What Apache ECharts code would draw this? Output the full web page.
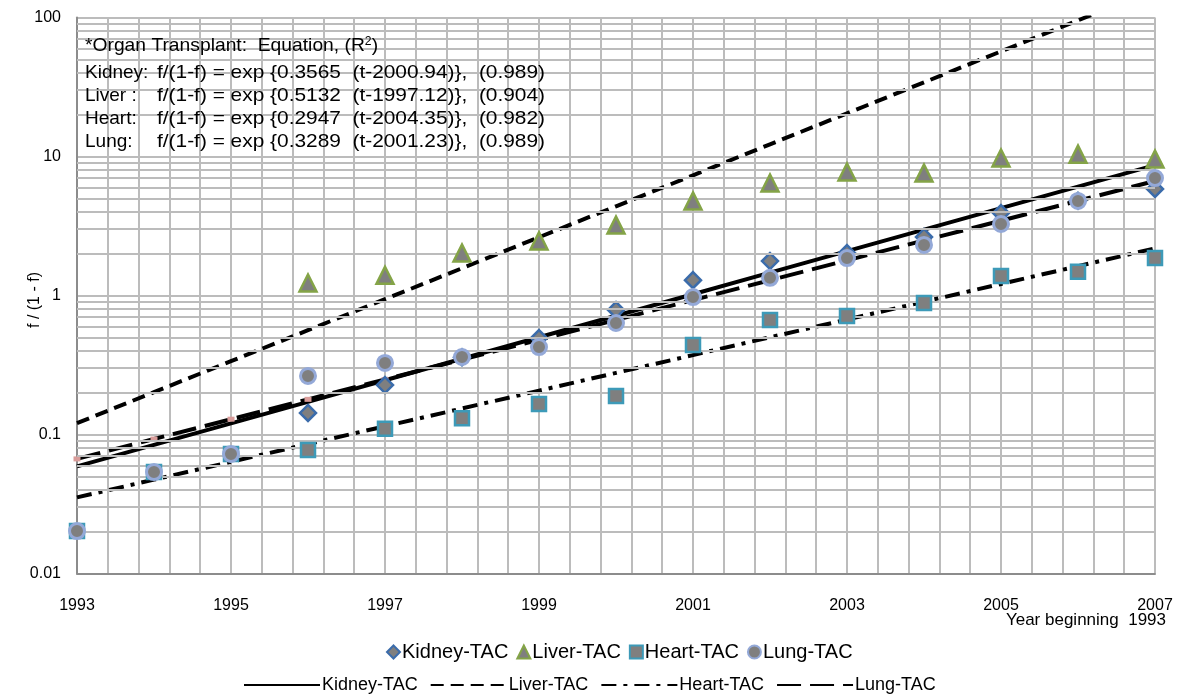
<!DOCTYPE html>
<html>
<head>
<meta charset="utf-8">
<script src="https://cdn.jsdelivr.net/npm/echarts@6/dist/echarts.min.js"></script>
<style>
  html, body { margin: 0; padding: 0; background: #ffffff; }
  #chart { width: 1180px; height: 695px; }
</style>
</head>
<body>
<div id="chart"></div>
<script>
// Observed f/(1-f) ratios per year of the tacrolimus (TAC) share
const years  = [1993, 1994, 1995, 1996, 1997, 1998, 1999, 2000, 2001, 2002, 2003, 2004, 2005, 2006, 2007];
const kidney = [null, null, null, 0.143, 0.227, 0.36, 0.494, 0.787, 1.29, 1.77, 2.02, 2.64, 3.92, 4.8, 5.84];
const liver  = [null, null, null, 1.23, 1.40, 2.02, 2.47, 3.21, 4.79, 6.45, 7.73, 7.61, 9.75, 10.4, 9.6];
const heart  = [0.0202, 0.0537, 0.0724, 0.0774, 0.110, 0.131, 0.166, 0.189, 0.44, 0.666, 0.712, 0.883, 1.38, 1.48, 1.86];
const lung   = [0.0202, 0.0537, 0.0724, 0.264, 0.327, 0.361, 0.426, 0.634, 0.975, 1.34, 1.86, 2.31, 3.27, 4.79, 7.0];

// Fisher-Pry fits: f/(1-f) = exp{rate (t - mid)}
const organs   = ['Kidney', 'Liver', 'Heart', 'Lung'];
const fitRate  = [0.3565, 0.5132, 0.2947, 0.3289];
const fitMid   = [2000.94, 1997.12, 2004.35, 2001.23];
const fitR2    = ['0.989', '0.904', '0.982', '0.989'];

// Axis tick labels
const yTickLabels = ['0.01', '0.1', '1', '10', '100'];
const xTickLabels = ['1993', '1995', '1997', '1999', '2001', '2003', '2005', '2007'];

const FONT = "'Liberation Sans', Arial, sans-serif";
const GRID = '#bcbcbc';
const baseYear = years[0];

const observed = [kidney, liver, heart, lung];
const names = organs.map(o => o + '-TAC');

function pts(vals) {
  return years.map((y, i) => [y - baseYear, vals[i]]);
}
function fitPts(k) {
  return years.map(y => [y - baseYear, Math.exp(fitRate[k] * (y - fitMid[k]))]);
}

// Minor log grid values 2..9 within each decade
const minorGrid = [];
for (let e = -2; e <= 1; e++) {
  for (let m = 2; m <= 9; m++) minorGrid.push(+(m * Math.pow(10, e)).toPrecision(3));
}

const markerStyles = [
  { symbol: 'diamond',  size: 16, border: '#3b6cab' },
  { symbol: 'triangle', size: 17, border: '#84a447' },
  { symbol: 'rect',     size: 14, border: '#3d9ab8' },
  { symbol: 'circle',   size: 15, border: '#94a9d8' }
];
const lineTypes = ['solid', [13, 7], [15, 7, 4, 7], [24, 9]];

const series = [];
// horizontal minor grid of the log axis
series.push({
  name: 'grid', type: 'line', data: [], z: 1, silent: true,
  markLine: {
    silent: true, symbol: ['none', 'none'], animation: false,
    label: { show: false },
    lineStyle: { color: GRID, width: 2, type: 'solid' },
    data: minorGrid.map(v => ({ yAxis: v }))
  }
});
// fitted lines
organs.forEach((o, k) => {
  const isLung = k === 3;
  series.push({
    name: names[k] + ' fit', type: 'line', data: fitPts(k), z: 3,
    showSymbol: isLung, symbol: isLung ? 'rect' : 'none', symbolSize: [7, 5],
    itemStyle: { color: '#d99c9a' },
    lineStyle: { color: '#000', width: 4, type: lineTypes[k] },
    animation: false, clip: true
  });
});
// observed markers
organs.forEach((o, k) => {
  series.push({
    name: names[k], type: 'scatter', data: pts(observed[k]), z: 4 + k,
    symbol: markerStyles[k].symbol, symbolSize: markerStyles[k].size,
    itemStyle: { color: '#7f7f7f', borderColor: markerStyles[k].border, borderWidth: k === 3 ? 3 : 2.5, opacity: 1 },
    animation: false
  });
});

// text measuring for the equation block
const measureCtx = document.createElement('canvas').getContext('2d');
function textWidth(str, size) {
  measureCtx.font = size + 'px ' + FONT;
  return measureCtx.measureText(str).width;
}

const EQ_SIZE = 19;
const EQ_LEFT = 85;
const EQ_RIGHT = 545;
const eqY = [73, 96, 119, 142];
const eqLines = organs.map((o, k) => {
  const label = o === 'Liver' ? 'Liver :' : o + ':';
  return {
    label: label,
    eq: 'f/(1-f) = exp {' + fitRate[k].toFixed(4) + '  (t-' + fitMid[k].toFixed(2) + ')},  (' + fitR2[k] + ')',
    x: Math.max(157, Math.round(EQ_LEFT + textWidth(label + ' ', EQ_SIZE)))
  };
});

const headText = '*Organ Transplant:  Equation, (R';
const headScale = (382 - EQ_LEFT) / textWidth(headText + '2)', EQ_SIZE);

const graphic = [
  {
    type: 'text', x: EQ_LEFT, y: 36, z: 10, scaleX: headScale,
    style: {
      text: headText + '{sup|2})',
      rich: { sup: { fontSize: 12, verticalAlign: 'top', padding: [0, 0, 6, 0], fontFamily: FONT, fill: '#000' } },
      font: EQ_SIZE + 'px ' + FONT, fill: '#000'
    }
  },
  {
    type: 'text', x: 35, y: 300, rotation: Math.PI / 2, z: 10,
    style: { text: 'f / (1 - f)', font: '16px ' + FONT, fill: '#000', align: 'center', verticalAlign: 'middle' }
  },
  {
    type: 'text', x: 1166, y: 620, z: 10,
    style: { text: 'Year beginning  1993', font: '17px ' + FONT, fill: '#000', align: 'right', verticalAlign: 'middle' }
  }
];
eqLines.forEach((l, i) => {
  graphic.push({ type: 'text', x: EQ_LEFT, y: eqY[i], z: 10,
    style: { text: l.label, font: EQ_SIZE + 'px ' + FONT, fill: '#000', verticalAlign: 'middle' } });
  graphic.push({ type: 'text', x: l.x, y: eqY[i], z: 10,
    scaleX: (EQ_RIGHT - l.x) / textWidth(l.eq, EQ_SIZE),
    style: { text: l.eq, font: EQ_SIZE + 'px ' + FONT, fill: '#000', verticalAlign: 'middle' } });
});

const option = {
  backgroundColor: '#ffffff',
  animation: false,
  grid: { left: 77, right: 25, top: 17.5, bottom: 121.5, containLabel: false },
  xAxis: {
    type: 'value', min: 0, max: years[years.length - 1] - baseYear, interval: 2,
    axisLine: { show: true, lineStyle: { color: '#8c8c8c', width: 2 } },
    axisTick: { show: false },
    axisLabel: {
      fontFamily: FONT, fontSize: 16, color: '#000', margin: 24,
      formatter: v => xTickLabels[Math.round(v / 2)] || ''
    },
    splitLine: { show: true, lineStyle: { color: GRID, width: 2 } },
    minorTick: { show: false, splitNumber: 5 },
    minorSplitLine: { show: true, lineStyle: { color: GRID, width: 2 } }
  },
  yAxis: {
    type: 'log', logBase: 10, min: 0.01, max: 100,
    axisLine: { show: true, lineStyle: { color: '#8c8c8c', width: 2 } },
    axisTick: { show: false },
    axisLabel: {
      fontFamily: FONT, fontSize: 16, color: '#000', margin: 16, padding: [4, 0, 0, 0],
      formatter: v => yTickLabels[Math.round(Math.log10(v)) + 2] || ''
    },
    splitLine: { show: true, lineStyle: { color: GRID, width: 2 } }
  },
  legend: [
    {
      data: names, left: 381, top: 637, orient: 'horizontal',
      itemWidth: 13, itemHeight: 13, itemGap: 8,
      textStyle: { fontFamily: FONT, fontSize: 20, color: '#000', padding: [0, 0, 0, -3] }
    },
    {
      data: names.map(n => ({ name: n + ' fit', itemStyle: { opacity: 0 } })),
      left: 238, top: 671, orient: 'horizontal',
      itemWidth: 76, itemHeight: 14, itemGap: 12,
      formatter: n => n.replace(' fit', ''),
      textStyle: { fontFamily: FONT, fontSize: 18, color: '#000', padding: [0, 0, 0, -3] }
    }
  ],
  graphic: graphic,
  series: series
};

const chart = echarts.init(document.getElementById('chart'), null, { renderer: 'canvas' });
chart.setOption(option);
</script>
</body>
</html>
